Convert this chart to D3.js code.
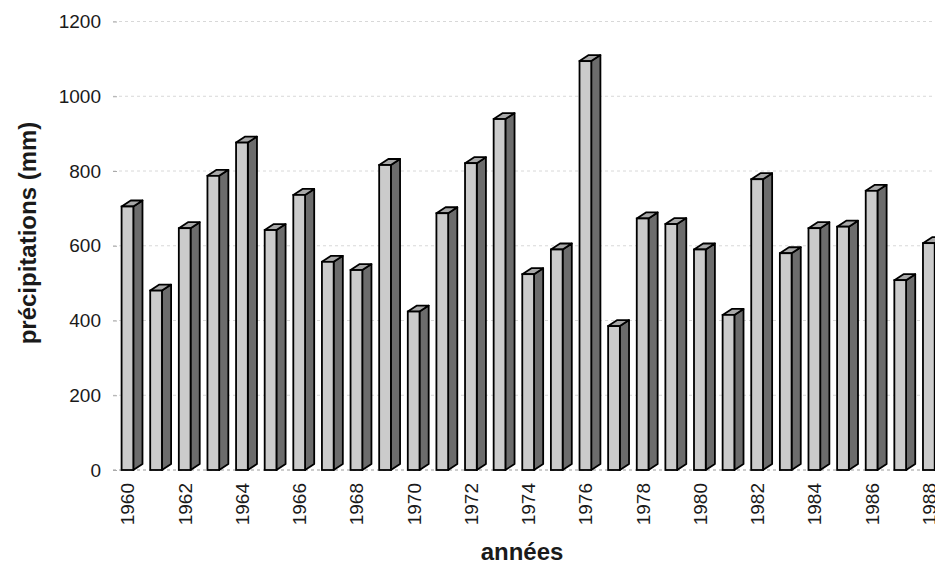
<!DOCTYPE html>
<html>
<head>
<meta charset="utf-8">
<script src="https://cdn.jsdelivr.net/npm/d3@7"></script>
<style>
  html, body { margin: 0; padding: 0; background: #fff; }
  svg { display: block; }
  text { font-family: "Liberation Sans", Arial, Helvetica, sans-serif; fill: #1a1a1a; }
</style>
</head>
<body>
<svg id="chart" width="935" height="565"></svg>
<script>
// Annual precipitation, 1960-1988
const years = [1960, 1961, 1962, 1963, 1964, 1965, 1966, 1967, 1968, 1969,
               1970, 1971, 1972, 1973, 1974, 1975, 1976, 1977, 1978, 1979,
               1980, 1981, 1982, 1983, 1984, 1985, 1986, 1987, 1988];
const precip = [705, 480, 647, 787, 876, 642, 736, 557, 535, 816,
                424, 687, 821, 939, 524, 590, 1094, 385, 673, 658,
                590, 415, 778, 580, 647, 651, 747, 508, 607];
const yTicks = [0, 200, 400, 600, 800, 1000, 1200];
const yearLabels = years.filter(y => y % 2 === 0);

const svg = d3.select("#chart");
const plotLeft = 113, plotRight = 943;

const x = d3.scaleBand().domain(years).range([plotLeft, plotRight]).padding(0);
const y = d3.scaleLinear().domain([0, 1200]).range([470, 21.5]);

const bw = x.bandwidth();
const faceOff = bw * 0.30;   // front face offset inside the band
const faceW = bw * 0.41;     // front face width
const dx = bw * 0.32;        // depth, horizontal
const dy = 6;                // depth, vertical

// gridlines
svg.append("g")
  .selectAll("line")
  .data(yTicks)
  .join("line")
  .attr("x1", plotLeft).attr("x2", 935)
  .attr("y1", d => y(d)).attr("y2", d => y(d))
  .attr("stroke", d => d === 0 ? "#9a9a9a" : "#d8d8d8")
  .attr("stroke-width", 1)
  .attr("stroke-dasharray", "3,3");

// y axis: labels and small tick marks, no domain line
const yAxis = svg.append("g")
  .attr("transform", `translate(${plotLeft + 4},0)`)
  .call(d3.axisLeft(y).tickValues(yTicks).tickFormat(d3.format("d")).tickSize(4).tickPadding(12))
  .call(g => g.select(".domain").remove());
yAxis.selectAll(".tick line").attr("stroke", "#aaa");
yAxis.selectAll(".tick text")
  .style("font-size", "19px")
  .style("font-family", "'Liberation Sans', Arial, sans-serif")
  .attr("fill", "#1a1a1a");

// 3D columns
const bars = svg.append("g")
  .selectAll("g")
  .data(years.map((yr, i) => ({ year: yr, value: precip[i] })))
  .join("g");

const base = y(0);
bars.append("path") // side face
  .attr("d", d => {
    const xr = x(d.year) + faceOff + faceW, yt = y(d.value);
    return `M${xr},${base}L${xr + dx},${base - dy}L${xr + dx},${yt - dy}L${xr},${yt}Z`;
  })
  .attr("fill", "#6c6c6c")
  .attr("stroke", "#000").attr("stroke-width", 1.8).attr("stroke-linejoin", "round");

bars.append("path") // top face
  .attr("d", d => {
    const xl = x(d.year) + faceOff, yt = y(d.value);
    return `M${xl},${yt}L${xl + dx},${yt - dy}L${xl + faceW + dx},${yt - dy}L${xl + faceW},${yt}Z`;
  })
  .attr("fill", "#a8a8a8")
  .attr("stroke", "#000").attr("stroke-width", 1.8).attr("stroke-linejoin", "round");

bars.append("rect") // front face
  .attr("x", d => x(d.year) + faceOff)
  .attr("y", d => y(d.value))
  .attr("width", faceW)
  .attr("height", d => base - y(d.value))
  .attr("fill", "#cbcbcb")
  .attr("stroke", "#000").attr("stroke-width", 1.8);

// year labels, rotated
svg.append("g")
  .selectAll("text")
  .data(yearLabels)
  .join("text")
  .attr("transform", d => `translate(${x(d) + faceOff + faceW / 2 + 0.5},483) rotate(-90)`)
  .attr("text-anchor", "end")
  .attr("dominant-baseline", "central")
  .style("font-size", "19px")
  .text(d => d);

// axis titles
svg.append("text")
  .attr("transform", "translate(27,233) rotate(-90)")
  .attr("text-anchor", "middle")
  .attr("dominant-baseline", "central")
  .style("font-size", "24px")
  .style("font-weight", "bold")
  .text("précipitations (mm)");

svg.append("text")
  .attr("x", 522).attr("y", 560)
  .attr("text-anchor", "middle")
  .style("font-size", "24px")
  .style("font-weight", "bold")
  .text("années");
</script>
</body>
</html>
